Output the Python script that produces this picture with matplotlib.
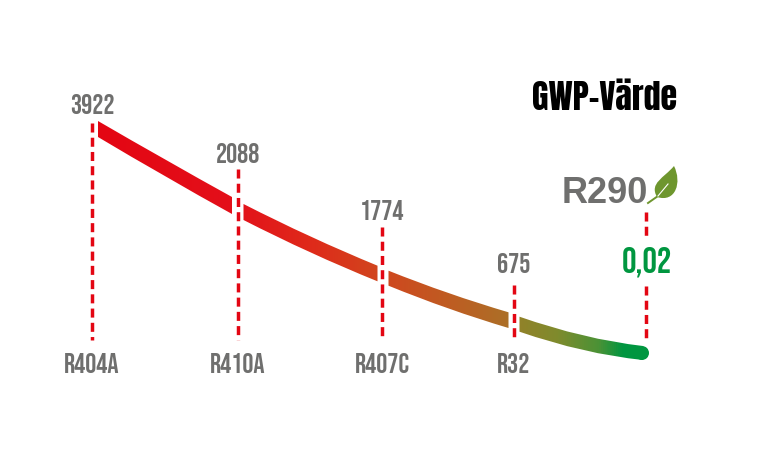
import numpy as np
import matplotlib
matplotlib.use("Agg")
import matplotlib.pyplot as plt
from matplotlib.path import Path
from matplotlib.patches import PathPatch, Circle
from matplotlib.colors import LinearSegmentedColormap

refrigerants = ["R404A", "R410A", "R407C", "R32"]
gwp_labels = ["3922", "2088", "1774", "675"]
final_name = "R290"
final_gwp = "0,02"
title = "GWP-Värde"

marker_x = [92, 238, 382, 514]
marker_top = [124, 170, 228, 286]
label_base = [113.5, 163, 220.5, 273.5]
baseline = 341
final_x = 646

# band pieces: x start / bend / end, upper and lower edge y at each
seg_x = [[98, 165, 232], [243.5, 310, 377.5], [388.5, 448, 508.5], [519.5, 584, 643]]
seg_top = [[122, 161, 198], [205, 239, 266.7], [271.7, 295.5, 313.3], [317.7, 340.3, 347]]
seg_bot = [[138, 178, 215], [221, 255, 282.3], [286.7, 311, 329], [332.7, 355, 361]]

grad_pos = [0.0, 0.245, 0.387, 0.51, 0.64, 0.748, 0.77, 0.84, 0.916, 0.96, 1.0]
grad_col = ["#e30613", "#e3101a", "#df2a1a", "#d1451e", "#bf5c22", "#ac6f27",
            "#918229", "#7f8b2d", "#4a9236", "#009640", "#009640"]

GRAY = "#6f6f6e"
RED = "#e30613"
GREEN = "#009640"
LABEL = ["Bebas Neue", "Oswald", "DejaVu Sans"]
HEAD = ["Anton", "Oswald", "DejaVu Sans"]

fig = plt.figure(figsize=(7.68, 4.52), dpi=100, facecolor="white")
ax = fig.add_axes([0, 0, 1, 1])

# gradient band
verts, codes = [], []
for xs, top, bot in zip(seg_x, seg_top, seg_bot):
    verts += [(xs[0], top[0]), (xs[1], top[1]), (xs[2], top[2]),
              (xs[2], bot[2]), (xs[1], bot[1]), (xs[0], bot[0]), (xs[0], top[0])]
    codes += [Path.MOVETO, Path.CURVE3, Path.CURVE3, Path.LINETO,
              Path.CURVE3, Path.CURVE3, Path.CLOSEPOLY]
ax.set_xlim(0, 768)
ax.set_ylim(452, 0)
clip = PathPatch(Path(verts, codes), transform=ax.transData, fc="none", ec="none")
ax.add_patch(clip)
cmap = LinearSegmentedColormap.from_list("gwp", list(zip(grad_pos, grad_col)))
ramp = np.linspace(0, 1, 512)[None, :]
im = ax.imshow(ramp, cmap=cmap, extent=[98, 646, 452, 0], aspect="auto", zorder=2)
im.set_clip_path(clip)
ax.set_xlim(0, 768)
ax.set_ylim(452, 0)
ax.axis("off")
ax.add_patch(Circle((642, 354), 7, fc=GREEN, ec="none", zorder=3))

# dashed markers
dash = dict(color=RED, lw=2.5, dashes=(2.6, 1.5), dash_capstyle="butt", zorder=4)
for x, top in zip(marker_x, marker_top):
    ax.plot([x, x], [top, baseline], **dash)
ax.plot([final_x, final_x], [212.5, 237], **dash)
ax.plot([final_x, final_x], [287, baseline], **dash)

# labels
for x, y, g, r in zip(marker_x, label_base, gwp_labels, refrigerants):
    ax.text(x, y, g, ha="center", va="baseline", color=GRAY, fontsize=20, family=LABEL)
    ax.text(x, 372.7, r, ha="center", va="baseline", color=GRAY, fontsize=20, family=LABEL)
ax.text(647, 272.7, final_gwp, ha="center", va="baseline", color=GREEN, fontsize=26, family=LABEL)
ax.text(604.5, 110, title, ha="center", va="baseline", color="black", fontsize=24.5, family=HEAD)
ax.text(605, 202.7, final_name, ha="center", va="baseline", color=GRAY, fontsize=26,
        fontweight="bold", family=["Liberation Sans", "DejaVu Sans"])

# leaf
leaf = Path([(657, 198), (649, 184), (664, 179), (674, 167), (682, 183), (676, 204), (657, 198), (657, 198)],
            [Path.MOVETO, Path.CURVE4, Path.CURVE4, Path.CURVE4, Path.CURVE4, Path.CURVE4, Path.CURVE4, Path.CLOSEPOLY])
ax.add_patch(PathPatch(leaf, fc="#6e962e", ec="none", zorder=5))
ax.plot([648, 658], [204, 197], color="#6e962e", lw=1.4, zorder=5)
ax.plot([658, 668], [197, 185], color="white", lw=0.8, zorder=6)

fig.savefig("out.png", dpi=100)
